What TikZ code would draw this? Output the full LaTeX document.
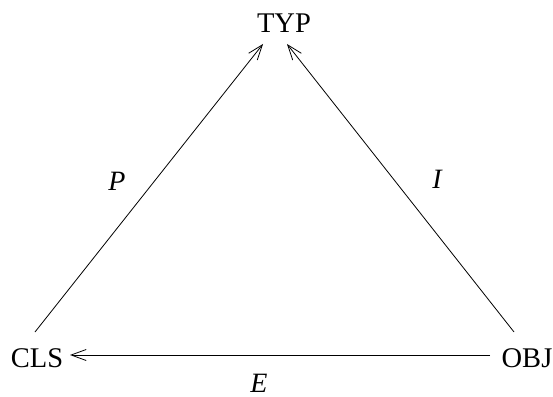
\documentclass[tikz,border=0pt]{standalone}
\usepackage{fontspec}
\setmainfont{Liberation Serif}
\usetikzlibrary{arrows.meta}
\begin{document}
\begin{tikzpicture}[x=1pt,y=1pt,
  obj/.style={inner sep=0pt, anchor=base, font=\fontsize{28.5}{33}\selectfont},
  lbl/.style={inner sep=0pt, font=\fontsize{28}{33}\selectfont\itshape},
  arr/.style={line width=0.8pt, -{Straight Barb[length=15pt,width=11pt,line width=0.8pt]}}]
\useasboundingbox (0,0) rectangle (553,396);
\node[obj] (TYP) at (284,363) {TYP};
\node[obj] (CLS) at (37,29) {CLS};
\node[obj] (OBJ) at (527,29) {OBJ};
\node[lbl] (P) at (117,215) {P};
\node[lbl] (I) at (437,217) {I};
\node[lbl] (E) at (259,13) {E};
\draw[arr] ([shift={(-2,35)}]CLS.base) -- ([shift={(-21,-11)}]TYP.base);
\draw[arr] ([shift={(-13,35)}]OBJ.base) -- ([shift={(3,-11)}]TYP.base);
\draw[arr] ([shift={(-37,12)}]OBJ.base) -- ([shift={(33,12)}]CLS.base);
\end{tikzpicture}
\end{document}
